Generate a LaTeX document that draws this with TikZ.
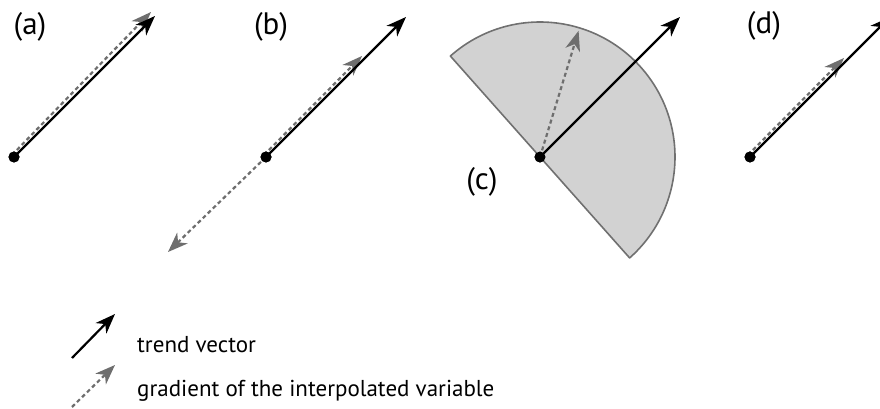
\documentclass[tikz,border=0pt]{standalone}
\usepackage{fontspec}
\setmainfont{PT Sans}
\usepackage{tikz}
\usetikzlibrary{arrows.meta, positioning, calc}
\definecolor{trendblack}{RGB}{0,0,0}
\definecolor{gradgray}{RGB}{110,110,110}
\definecolor{conefill}{RGB}{210,210,210}
\definecolor{coneedge}{RGB}{112,112,112}
\tikzset{
    vecarrow/.style={-{Stealth[length=20pt, width=15pt, inset=6pt]}, draw=trendblack, line width=2.2pt},
    gradarrow/.style={-{Stealth[length=20pt, width=15pt, inset=6pt]}, draw=gradgray, line width=2.2pt, dash pattern=on 4pt off 3pt},
    vecdot/.style={circle, fill=black, inner sep=0pt, minimum size=11pt},
    panellabel/.style={font=\fontsize{31}{36}\selectfont, inner sep=0pt},
    legendtext/.style={font=\fontsize{23}{28}\selectfont, inner sep=0pt, anchor=base west},
    conearea/.style={fill=conefill, draw=coneedge, line width=1.6pt, line join=round}
}

\begin{document}
\begin{tikzpicture}[x=1pt, y=1pt]

\clip (0,0) rectangle (880,409);

\node[vecdot] (oa) at (14,252) {};
\node[vecdot] (ob) at (266,252) {};
\node[vecdot] (oc) at (540,252) {};
\node[vecdot] (od) at (750,252) {};

\node[panellabel] (la) at (30,382) {(a)};
\node[panellabel] (lb) at (271,382) {(b)};
\node[panellabel] (lc) at (482,227) {(c)};
\node[panellabel] (ld) at (764,383) {(d)};

\coordinate (ta) at (155,393);
\coordinate (tb) at (406,392);
\coordinate (tc) at (680,392);
\coordinate (td) at (890,392);

\coordinate (ga) at (151,397);
\coordinate (gb) at (362,353);
\coordinate (gbb) at (168,157);
\coordinate (gc) at ($(oc)+(73:132)$);
\coordinate (gd) at (844,351);

\fill[conearea] (oc.center) -- ++(131.6:135) arc[start angle=131.6, end angle=-48.4, radius=135] -- cycle;

\draw[gradarrow] ($(oa.center)+(-2,2)$) -- (ga);
\draw[vecarrow] (oa.center) -- (ta);

\draw[gradarrow] ($(ob.center)+(-2,2)$) -- (gb);
\draw[gradarrow] (ob.center) -- (gbb);
\draw[vecarrow] (ob.center) -- (tb);

\draw[gradarrow] (oc.center) -- (gc);
\draw[vecarrow] (oc.center) -- (tc);

\draw[gradarrow] ($(od.center)+(-2,2)$) -- (gd);
\draw[vecarrow] (od.center) -- (td);

\node[vecdot] at (oa) {};
\node[vecdot] at (ob) {};
\node[vecdot] at (oc) {};
\node[vecdot] at (od) {};

\coordinate (ka) at (72,51);
\coordinate (kb) at (115,95);
\coordinate (kc) at (72,2);
\coordinate (kd) at (115,44);
\draw[vecarrow] (ka) -- (kb);
\draw[gradarrow] (kc) -- (kd);

\node[legendtext] (trend) at (137,56) {trend vector};
\node[legendtext] (grad) at (137,12) {gradient of the interpolated variable};

\end{tikzpicture}
\end{document}
